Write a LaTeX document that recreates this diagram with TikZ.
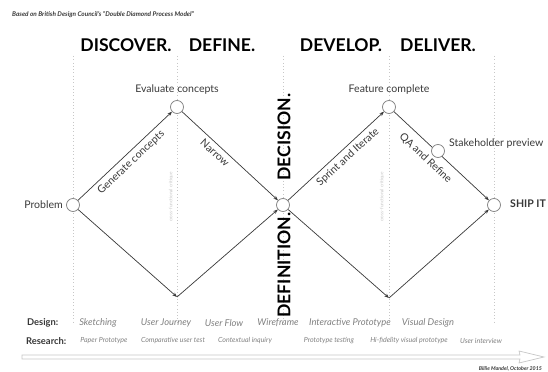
\documentclass[tikz,border=0pt]{standalone}
\usepackage{fontspec}
\setmainfont{Lato}
\usetikzlibrary{arrows.meta,positioning}
\definecolor{ink}{gray}{0.22}
\definecolor{soft}{gray}{0.5}
\definecolor{faint}{gray}{0.78}

\tikzset{
	dot/.style={circle,draw=soft,fill=white,line width=0.6pt,minimum size=0.39cm,inner sep=0pt},
	edge/.style={draw=ink,line width=0.6pt,-{Stealth[length=4pt,width=3pt]}},
	phase/.style={font=\fontsize{15}{17}\selectfont\bfseries,text=black},
	lbl/.style={font=\fontsize{9}{10}\selectfont,text=ink},
	design/.style={font=\fontsize{8}{9}\selectfont\itshape,text=soft},
	research/.style={font=\fontsize{6}{7}\selectfont\itshape,text=soft},
	guide/.style={draw=faint,dotted,line width=0.8pt},
}

\begin{document}
\begin{tikzpicture}[x=0.03cm,y=-0.03cm]
	\useasboundingbox (0,0) rectangle (548,372);
	\node[anchor=west,font=\fontsize{5.5}{6}\selectfont\bfseries\itshape,text=ink] (src) at (8,15) {Based on British Design Council's ``Double Diamond Process Model''};
	\node[phase] (discover) at (126,45) {DISCOVER.};
	\node[phase] (define) at (222,45) {DEFINE.};
	\node[phase] (develop) at (341,45) {DEVELOP.};
	\node[phase] (deliver) at (438,45) {DELIVER.};
	\foreach \x in {73,177,283,389,494}
		\draw[guide] (\x,56) -- (\x,322);
	\node[rotate=90,font=\fontsize{4}{5}\selectfont,text=faint] (crit1) at (171,197) {cross-functional critique};
	\node[rotate=90,font=\fontsize{4}{5}\selectfont,text=faint] (crit2) at (382,197) {cross-functional critique};
	\node[dot] (prob) at (73,205) {};
	\node[dot] (eval) at (177,107) {};
	\coordinate (low1) at (177,297);
	\node[dot] (dec) at (283,205) {};
	\node[dot] (feat) at (389,107) {};
	\coordinate (low2) at (389,298);
	\node[dot] (ship) at (494,205) {};
	\draw[edge] (prob) -- (eval) node[lbl,midway,sloped,below] {Generate concepts};
	\draw[edge] (eval) -- (dec) node[lbl,pos=0.4,sloped,below] {Narrow};
	\draw[edge] (prob) -- (low1);
	\draw[edge] (low1) -- (dec);
	\draw[edge] (dec) -- (feat) node[lbl,pos=0.56,sloped,below] {Sprint and Iterate};
	\draw[edge] (dec) -- (low2);
	\draw[edge] (low2) -- (ship);
	\draw[edge] (feat) -- (ship) node[lbl,pos=0.42,sloped,below=3pt] {QA and Refine};
	\node[dot] (stake) at (438,151) {};
	\node[lbl,anchor=west] (stakelbl) at (445,144) {Stakeholder preview};
	\node[lbl,anchor=east,inner sep=0pt] (problbl) at (63,205) {Problem};
	\node[lbl] (evallbl) at (177,90) {Evaluate concepts};
	\node[lbl] (featlbl) at (389,90) {Feature complete};
	\node[lbl,anchor=west,inner sep=0pt,font=\fontsize{9}{10}\selectfont\bfseries] (shiplbl) at (510,204) {SHIP IT};
	\node[phase,rotate=90] (decision) at (284,137) {DECISION.};
	\node[phase,rotate=90] (definition) at (284,265) {DEFINITION.};
	\node[anchor=west,font=\fontsize{8}{9}\selectfont\bfseries,text=ink] (designlbl) at (23,323) {Design:};
	\node[anchor=west,font=\fontsize{8}{9}\selectfont\bfseries,text=ink] (researchlbl) at (22,341) {Research:};
	\node[design] (d1) at (98,323) {Sketching};
	\node[design] (d2) at (166,323) {User Journey};
	\node[design] (d3) at (224,323) {User Flow};
	\node[design] (d4) at (278,323) {Wireframe};
	\node[design] (d5) at (350,323) {Interactive Prototype};
	\node[design] (d6) at (428,323) {Visual Design};
	\node[research] (r1) at (104,341) {Paper Prototype};
	\node[research] (r2) at (173,341) {Comparative user test};
	\node[research] (r3) at (245,341) {Contextual inquiry};
	\node[research] (r4) at (329,341) {Prototype testing};
	\node[research] (r5) at (409,341) {Hi-fidelity visual prototype};
	\node[research] (r6) at (481,341) {User interview};
	\draw[draw=faint,fill=white,line width=0.6pt] (22,355) -- (520,355) -- (519,351) -- (544,357) -- (519,363) -- (520,359) -- (22,359) -- cycle;
	\node[anchor=east,font=\fontsize{4.5}{5}\selectfont\bfseries\itshape,text=ink] (sign) at (546,369) {Billie Mandel, October 2015};
\end{tikzpicture}
\end{document}
